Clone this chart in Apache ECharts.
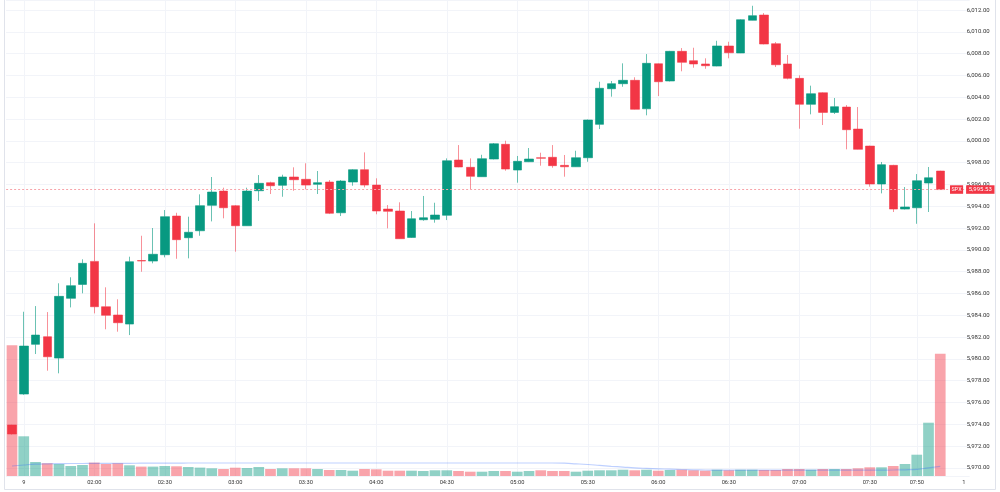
<!DOCTYPE html>
<html>
<head>
<meta charset="utf-8">
<script src="https://cdn.jsdelivr.net/npm/echarts@6.0.0/dist/echarts.min.js"></script>
<style>
    html, body { margin: 0; padding: 0; background: #fff; }
    #main { width: 1000px; height: 492px; }
</style>
</head>
<body>
<div id="main"></div>
<script>
// 5-minute bars, 01:25 .. 08:10 (last two slots empty)
const times = [
    '01:25', '01:30', '01:35', '01:40', '01:45', '01:50', '01:55',
    '02:00', '02:05', '02:10', '02:15', '02:20', '02:25', '02:30', '02:35', '02:40', '02:45', '02:50', '02:55',
    '03:00', '03:05', '03:10', '03:15', '03:20', '03:25', '03:30', '03:35', '03:40', '03:45', '03:50', '03:55',
    '04:00', '04:05', '04:10', '04:15', '04:20', '04:25', '04:30', '04:35', '04:40', '04:45', '04:50', '04:55',
    '05:00', '05:05', '05:10', '05:15', '05:20', '05:25', '05:30', '05:35', '05:40', '05:45', '05:50', '05:55',
    '06:00', '06:05', '06:10', '06:15', '06:20', '06:25', '06:30', '06:35', '06:40', '06:45', '06:50', '06:55',
    '07:00', '07:05', '07:10', '07:15', '07:20', '07:25', '07:30', '07:35', '07:40', '07:45', '07:50', '07:55',
    '08:00', '08:05', '08:10'
];

const opens = [
    5973.93, 5976.77, 5981.33, 5982.03, 5980.07, 5985.55, 5986.83, 5988.94, 5984.78, 5984.02,
    5983.19, 5989.02, 5988.97, 5989.55, 5993.10, 5991.11, 5991.75, 5994.08, 5995.39, 5994.05,
    5992.21, 5995.42, 5996.16, 5995.92, 5996.68, 5996.47, 5996.01, 5996.22, 5993.40, 5996.22,
    5997.35, 5995.94, 5993.74, 5993.56, 5991.14, 5992.76, 5992.80, 5993.17, 5998.24, 5997.57,
    5996.71, 5998.33, 5999.68, 5997.32, 5998.08, 5998.45, 5998.49, 5997.75, 5997.62, 5998.45,
    6001.51, 6004.78, 6005.24, 6005.55, 6002.94, 6007.07, 6005.49, 6008.21, 6007.35, 6007.05,
    6006.86, 6008.70, 6008.06, 6011.06, 6011.54, 6008.91, 6007.05, 6005.73, 6003.35, 6004.41,
    6002.61, 6003.10, 6001.08, 5999.52, 5996.04, 5997.75, 5993.74, 5993.86, 5996.13, 5997.23
];
const closes = [
    5973.10, 5981.17, 5982.18, 5980.19, 5985.73, 5986.71, 5988.76, 5984.78, 5983.99, 5983.31,
    5988.91, 5988.97, 5989.59, 5993.04, 5990.93, 5991.61, 5994.05, 5995.30, 5993.86, 5992.21,
    5995.39, 5996.10, 5995.88, 5996.68, 5996.43, 5995.94, 5996.16, 5993.35, 5996.31, 5997.35,
    5995.94, 5993.56, 5993.53, 5991.02, 5992.85, 5992.94, 5993.19, 5998.17, 5997.60, 5996.74,
    5998.36, 5999.73, 5997.41, 5998.12, 5998.33, 5998.40, 5997.72, 5997.62, 5998.45, 6001.91,
    6004.82, 6005.24, 6005.55, 6002.89, 6007.11, 6005.42, 6008.21, 6007.20, 6007.05, 6006.89,
    6008.70, 6008.08, 6011.11, 6011.48, 6008.88, 6006.98, 6005.73, 6003.35, 6004.32, 6002.61,
    6003.13, 6001.02, 5999.22, 5996.04, 5997.81, 5993.74, 5993.93, 5996.34, 5996.61, 5995.53
];
const lows = [
    5973.05, 5976.70, 5980.44, 5978.91, 5978.67, 5984.72, 5986.01, 5984.17, 5982.71, 5982.49,
    5982.18, 5987.99, 5988.76, 5989.31, 5989.18, 5989.22, 5991.29, 5992.61, 5992.89, 5989.83,
    5992.20, 5994.48, 5995.12, 5994.87, 5995.42, 5995.55, 5995.12, 5993.28, 5993.10, 5995.88,
    5995.73, 5993.26, 5991.97, 5991.00, 5991.10, 5992.67, 5992.49, 5992.73, 5997.58, 5995.58,
    5996.70, 5998.30, 5997.26, 5996.16, 5998.05, 5997.72, 5997.53, 5996.71, 5997.60, 5998.08,
    6001.08, 6004.05, 6004.96, 6002.87, 6002.34, 6004.11, 6005.45, 6006.38, 6006.71, 6006.61,
    6006.84, 6007.57, 6008.05, 6011.05, 6008.85, 6006.77, 6005.64, 6001.11, 6002.43, 6001.45,
    6002.46, 5999.22, 5999.20, 5995.79, 5995.18, 5993.47, 5993.70, 5992.39, 5993.47, 5995.50
];
const highs = [
    5973.95, 5984.32, 5984.84, 5984.29, 5986.93, 5987.48, 5989.13, 5992.43, 5986.56, 5985.46,
    5989.37, 5991.29, 5992.00, 5993.65, 5993.40, 5993.04, 5995.09, 5996.68, 5995.70, 5994.10,
    5995.70, 5996.86, 5996.25, 5996.89, 5997.57, 5997.94, 5997.23, 5996.40, 5996.40, 5997.40,
    5998.94, 5996.56, 5994.11, 5994.36, 5993.56, 5994.94, 5994.32, 5998.39, 5999.61, 5998.39,
    5998.72, 5999.80, 6000.01, 5998.61, 5999.34, 5998.91, 5999.61, 5998.70, 5999.09, 6001.95,
    6005.42, 6005.49, 6007.11, 6005.83, 6007.96, 6007.10, 6008.25, 6008.51, 6008.54, 6007.57,
    6009.18, 6009.09, 6011.15, 6012.39, 6011.72, 6009.06, 6007.87, 6006.01, 6005.06, 6004.45,
    6003.93, 6003.28, 6003.10, 5999.55, 5998.06, 5997.80, 5995.76, 5996.95, 5997.60, 5997.25
];
const volumes = [
    1307, 397, 140, 127, 120, 100, 110, 134, 120, 127,
    107, 94, 94, 100, 97, 90, 84, 77, 70, 83,
    80, 90, 70, 77, 77, 77, 70, 60, 60, 53,
    70, 67, 53, 53, 53, 50, 57, 57, 50, 43,
    43, 50, 50, 43, 50, 57, 50, 50, 43, 53,
    57, 57, 63, 57, 63, 53, 60, 63, 57, 53,
    63, 57, 63, 63, 60, 60, 70, 70, 63, 70,
    70, 70, 77, 87, 87, 100, 120, 213, 533, 1223
];
const volumeMa = [
    100, 110, 118, 122, 124, 125, 125, 126, 126, 127,
    127, 128, 128, 129, 129, 130, 130, 130, 130, 130,
    130, 130, 130, 130, 130, 130, 130, 130, 130, 130,
    130, 130, 130, 130, 130, 130, 130, 130, 130, 130,
    130, 130, 130, 130, 130, 130, 130, 128, 122, 115,
    106, 97, 89, 81, 76, 72, 68, 65, 62, 60,
    58, 58, 58, 58, 58, 58, 58, 58, 58, 58,
    58, 58, 58, 58, 59, 60, 62, 67, 82, 97
];

const tickTimes = ['01:30', '02:00', '02:30', '03:00', '03:30', '04:00', '04:30', '05:00',
    '05:30', '06:00', '06:30', '07:00', '07:30', '07:50', '08:10'];
const tickText = ['9', '02:00', '02:30', '03:00', '03:30', '04:00', '04:30', '05:00',
    '05:30', '06:00', '06:30', '07:00', '07:30', '07:50', '1'];
const gridTimes = tickTimes.slice(0, tickTimes.length - 1);

const symbolName = 'SPX';
const upColor = '#089981';
const downColor = '#f23645';

function fmtPrice(v) {
    return v.toLocaleString('en-US', {minimumFractionDigits: 2, maximumFractionDigits: 2});
}

function drawChart(divId) {
    const myChart = echarts.init(document.getElementById(divId));
    const candles = opens.map(function (o, i) {
        return [o, closes[i], lows[i], highs[i]];
    });
    const volBars = volumes.map(function (v, i) {
        return {
            value: v,
            itemStyle: {
                color: closes[i] >= opens[i] ? 'rgba(8,153,129,0.45)' : 'rgba(242,54,69,0.45)'
            }
        };
    });
    const lastPrice = closes[closes.length - 1];

    const option = {
        animation: false,
        backgroundColor: '#ffffff',
        textStyle: {fontFamily: 'Roboto'},
        grid: {left: 6.125, right: 30.375, top: 0, bottom: 16},
        graphic: [{
            type: 'rect',
            silent: true,
            shape: {x: 4.5, y: -1, width: 991, height: 490.5},
            style: {fill: 'none', stroke: '#e0e3eb', lineWidth: 1}
        }],
        xAxis: {
            type: 'category',
            data: times,
            boundaryGap: true,
            axisLine: {show: false},
            axisTick: {show: false},
            axisLabel: {
                interval: function (index, value) {
                    return tickTimes.indexOf(value) >= 0;
                },
                formatter: function (value) {
                    return tickText[tickTimes.indexOf(value)];
                },
                margin: 4,
                fontSize: 5.7,
                color: '#333'
            },
            splitLine: {
                show: true,
                alignWithLabel: true,
                interval: function (index, value) {
                    return gridTimes.indexOf(value) >= 0;
                },
                lineStyle: {color: '#f2f4f9', width: 1}
            }
        },
        yAxis: [
            {
                type: 'value',
                position: 'right',
                scale: true,
                min: 5969.25,
                max: 6012.92,
                splitNumber: 21,
                axisLine: {show: false},
                axisTick: {show: false},
                axisLabel: {
                    showMinLabel: false,
                    showMaxLabel: false,
                    align: 'right',
                    margin: 20,
                    fontSize: 6,
                    color: '#333',
                    formatter: fmtPrice
                },
                splitLine: {lineStyle: {color: '#f2f4f9', width: 1}}
            },
            {
                type: 'value',
                min: 0,
                max: 4760,
                show: false,
                splitLine: {show: false}
            }
        ],
        series: [
            {
                name: 'Volume',
                type: 'bar',
                yAxisIndex: 1,
                barCategoryGap: '9%',
                data: volBars
            },
            {
                name: 'Volume MA',
                type: 'line',
                yAxisIndex: 1,
                data: volumeMa,
                symbol: 'none',
                smooth: true,
                lineStyle: {color: 'rgba(41,98,255,0.3)', width: 1.2}
            },
            {
                name: symbolName,
                type: 'candlestick',
                yAxisIndex: 0,
                barWidth: 9,
                data: candles,
                itemStyle: {
                    color: upColor,
                    color0: downColor,
                    borderColor: 'rgba(8,153,129,0.6)',
                    borderColor0: 'rgba(242,54,69,0.55)',
                    borderWidth: 1
                },
                markLine: {
                    silent: true,
                    symbol: ['none', 'none'],
                    lineStyle: {color: '#f7a3aa', type: [2, 2], width: 1, opacity: 1},
                    label: {
                        show: true,
                        position: 'end',
                        distance: [-19.6, 0],
                        formatter: function () {
                            return '{a|' + symbolName + '} {b|' + fmtPrice(lastPrice) + '}';
                        },
                        rich: {
                            a: {
                                backgroundColor: downColor, color: '#fff', fontSize: 5.5,
                                lineHeight: 6, padding: [1.5, 1.5, 1, 1.5]
                            },
                            b: {
                                backgroundColor: downColor, color: '#fff', fontSize: 6,
                                lineHeight: 6, padding: [1.5, 2.7, 1, 2.7]
                            }
                        }
                    },
                    data: [{yAxis: lastPrice}]
                }
            }
        ]
    };

    myChart.setOption(option);
    return myChart;
}

drawChart('main');
</script>
</body>
</html>
